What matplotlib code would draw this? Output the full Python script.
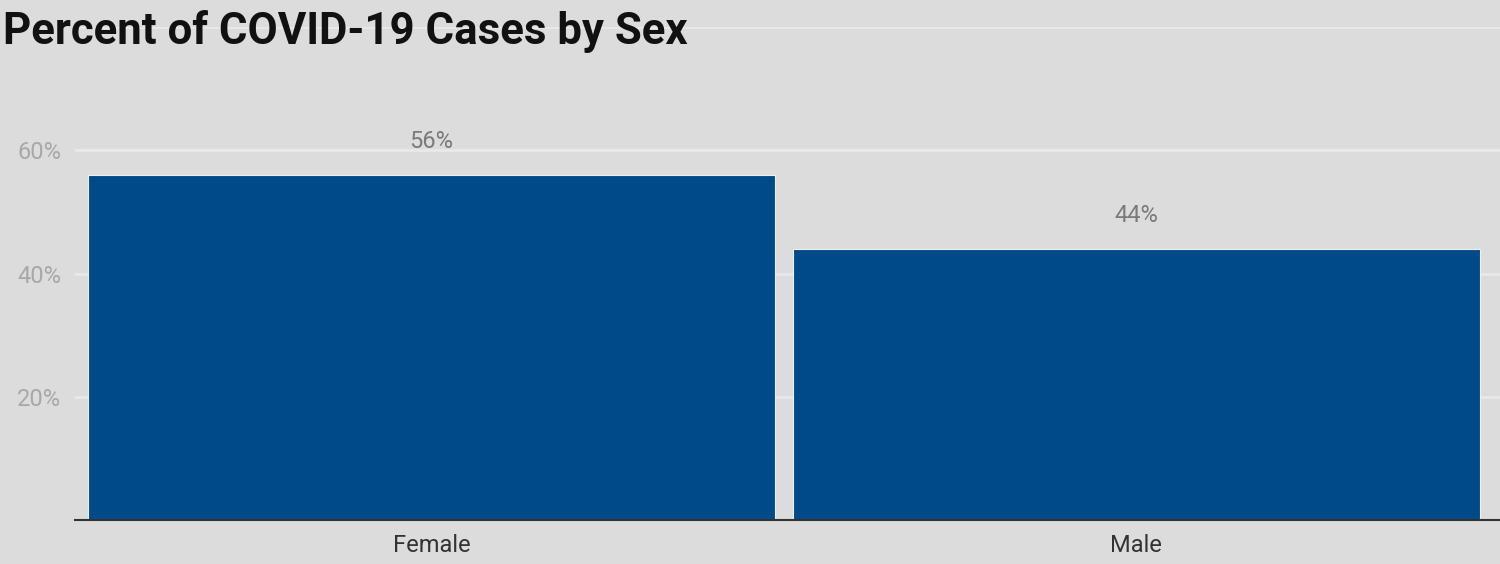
import matplotlib
matplotlib.use("Agg")
import matplotlib.pyplot as plt
from matplotlib.ticker import FuncFormatter

categories = ["Female", "Male"]
percents = [56, 44]
yticks = [20, 40, 60, 80]

bg = "#dddcdc"
bar_color = "#004a8a"

plt.rcParams["font.family"] = ["Roboto", "DejaVu Sans"]

fig = plt.figure(figsize=(15, 5.64), dpi=100, facecolor=bg)
ax = fig.add_axes([0.05, 0.078, 0.95, 0.874], facecolor=bg)

x = range(len(categories))
bars = ax.bar(x, percents, width=0.974, color=bar_color, edgecolor="#f0f0f0",
              linewidth=0.8, zorder=3)

for xi, v in zip(x, percents):
    ax.annotate("{}%".format(v), (xi, v), xytext=(0, 16), textcoords="offset points",
                ha="center", va="bottom", fontsize=17, color="#7a7a7a")

ax.set_xlim(-0.506, 1.516)
ax.set_ylim(0, 80)
ax.set_xticks(list(x))
ax.set_xticklabels(categories, fontsize=17, color="#333333")
ax.set_yticks(yticks)
ax.yaxis.set_major_formatter(FuncFormatter(lambda v, p: "" if v == 80 else "{:.0f}%".format(v)))
ax.tick_params(axis="y", length=0, labelsize=17, labelcolor="#a8a8a8", pad=10)
ax.tick_params(axis="x", length=0, pad=10)
ax.grid(axis="y", color="#e9e9e9", linewidth=2, zorder=0)

for s in ["top", "right", "left"]:
    ax.spines[s].set_visible(False)
ax.spines["bottom"].set_color("#333333")
ax.spines["bottom"].set_linewidth(1.5)
ax.spines["bottom"].set_zorder(4)

fig.text(0.002, 0.944, "Percent of COVID-19 Cases by Sex", fontsize=31.5,
         fontweight="bold", color="#111111", ha="left", va="center")

fig.savefig("out.png", dpi=100, facecolor=bg)
